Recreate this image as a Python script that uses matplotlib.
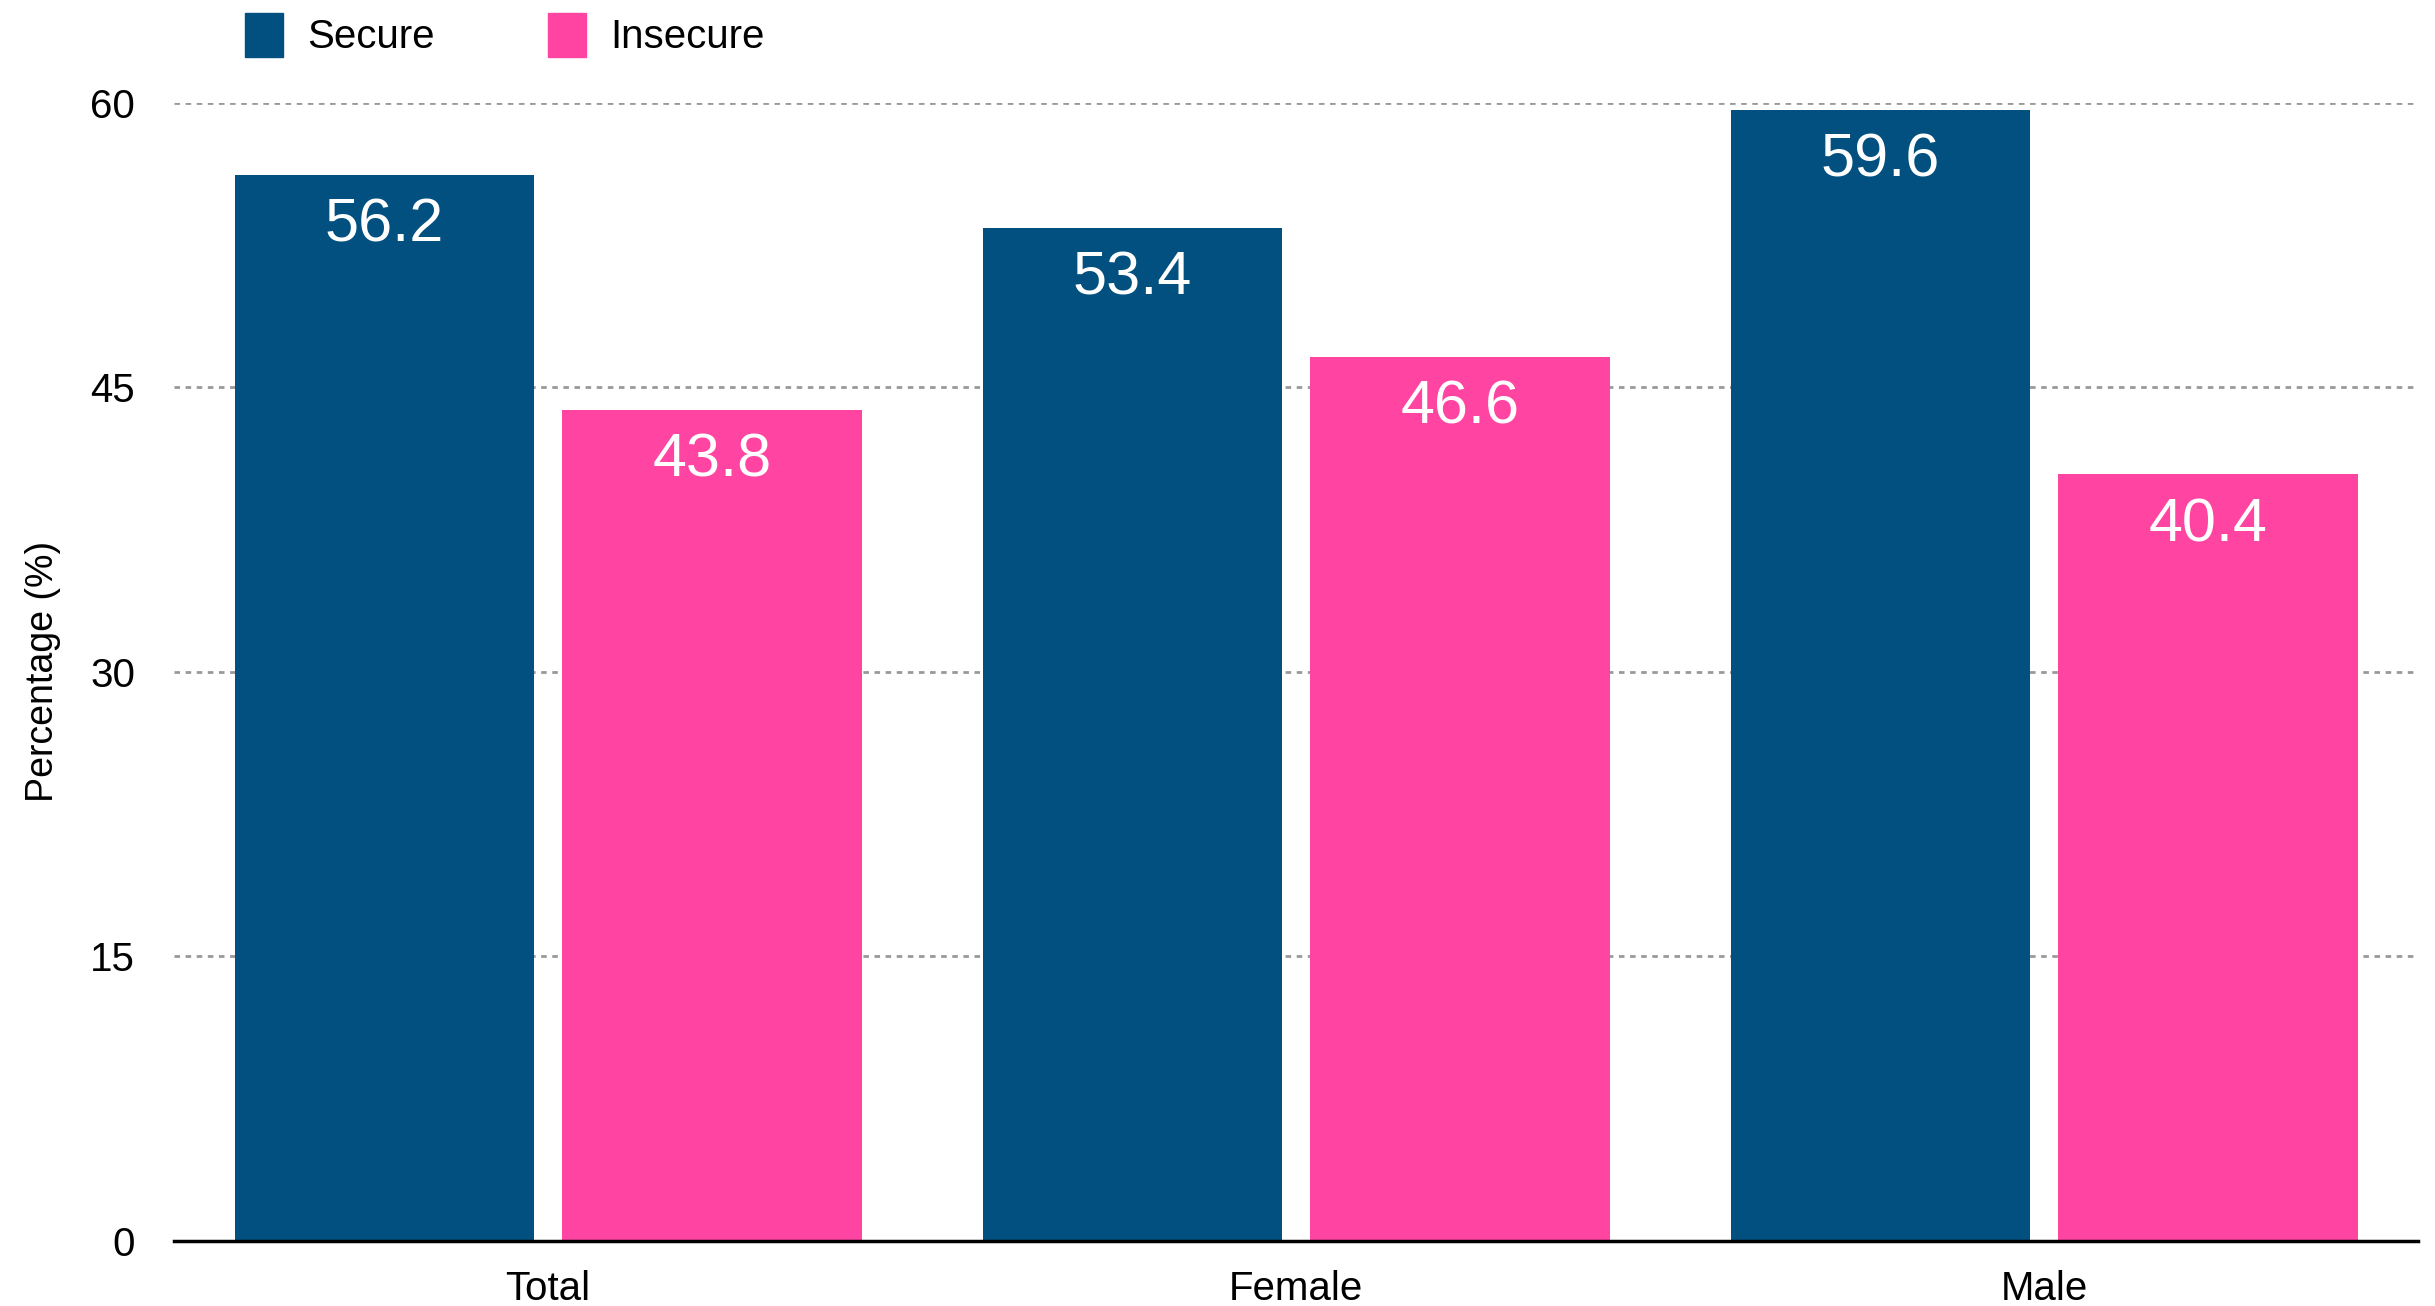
import matplotlib
matplotlib.use("Agg")
import matplotlib.pyplot as plt
import numpy as np
from matplotlib.patches import Patch

plt.rcParams['font.family'] = ['Liberation Sans', 'DejaVu Sans']

categories = ["Total", "Female", "Male"]
secure = [56.2, 53.4, 59.6]
insecure = [43.8, 46.6, 40.4]
yticks = [0, 15, 30, 45, 60]

c_secure = "#02507F"
c_insecure = "#FF44A1"

fig = plt.figure(figsize=(24.35, 13.06), dpi=100)
ax = fig.add_axes([0.0715, 0.0498, 0.9216, 0.8717])

x = np.arange(len(categories))
w = 0.40
off = 0.219
b1 = ax.bar(x - off, secure, w, color=c_secure, zorder=3)
b2 = ax.bar(x + off, insecure, w, color=c_insecure, zorder=3)

for bars in (b1, b2):
    for r in bars:
        h = r.get_height()
        ax.annotate(f"{h:.1f}", (r.get_x() + r.get_width() / 2, h),
                    xytext=(0, -37), textcoords="offset points",
                    ha="center", va="center", color="white", fontsize=44, zorder=4)

ax.set_xlim(-0.5, 2.5)
ax.set_ylim(0, 60)
ax.set_yticks(yticks)
ax.set_xticks(x)
ax.set_xticklabels(categories)
ax.tick_params(axis='both', length=0, labelsize=29)
ax.tick_params(axis='y', pad=28)
ax.tick_params(axis='x', pad=21)
ax.yaxis.grid(True, linestyle=(0, (2, 2)), color="#999999", linewidth=2, zorder=0)
for s in ("top", "right", "left"):
    ax.spines[s].set_visible(False)
ax.spines["bottom"].set_linewidth(2.5)
ax.spines["bottom"].set_zorder(5)
ax.set_ylabel("Percentage (%)", fontsize=27, labelpad=21)

handles = [Patch(color=c_secure, label="Secure"), Patch(color=c_insecure, label="Insecure")]
fig.legend(handles=handles, loc="upper left", bbox_to_anchor=(0.0856, 1.018), ncol=2,
           frameon=False, fontsize=29, handlelength=0.95, handleheight=1.3,
           handletextpad=0.6, columnspacing=2.82)

fig.savefig("out.png", dpi=100)
